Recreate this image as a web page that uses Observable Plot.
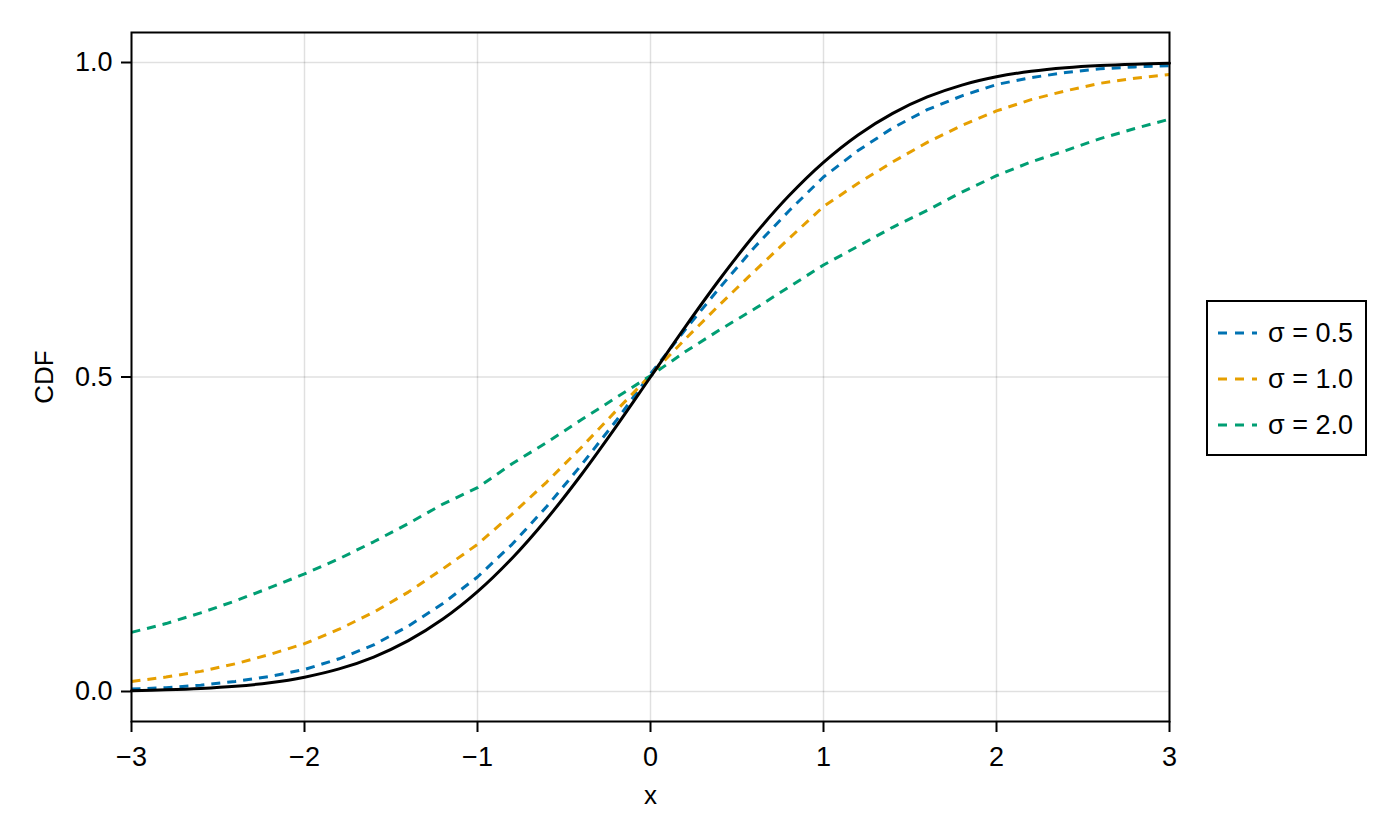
<!DOCTYPE html>
<html>
<head>
<meta charset="utf-8">
<script src="https://cdn.jsdelivr.net/npm/d3@7"></script>
<script src="https://cdn.jsdelivr.net/npm/@observablehq/plot@0.6"></script>
<style>
  html, body { margin: 0; padding: 0; background: #fff; }
  #wrap { position: relative; width: 1400px; height: 840px; font-family: "Liberation Sans", Arial, sans-serif; }
  #legend { position: absolute; left: 1206px; top: 300px; width: 157px; height: 152px; border: 2px solid #000; background: #fff; }
  .row { position: absolute; left: 0; height: 30px; display: flex; align-items: center; font-size: 27px; color: #000; white-space: nowrap; }
  .row svg { margin-left: 10px; margin-right: 11px; }
</style>
</head>
<body>
<div id="wrap"><div id="legend"></div></div>
<script>
// x grid of sampled points
const xs = [-3.0,-2.8,-2.6,-2.4,-2.2,-2.0,-1.8,-1.6,-1.4,-1.2,-1.0,-0.8,-0.6,-0.4,-0.2,0.0,
            0.2,0.4,0.6,0.8,1.0,1.2,1.4,1.6,1.8,2.0,2.2,2.4,2.6,2.8,3.0];
// reference CDF (black solid)
const cdfRef = [0.0013,0.0026,0.0047,0.0082,0.0139,0.0228,0.0359,0.0548,0.0808,0.1151,0.1587,0.2119,0.2743,0.3446,0.4207,0.5000,
                0.5793,0.6554,0.7257,0.7881,0.8413,0.8849,0.9192,0.9452,0.9641,0.9772,0.9861,0.9918,0.9953,0.9974,0.9987];
// sigma = 0.5 (blue dashed)
const sigma05 = [0.004,0.006,0.010,0.016,0.024,0.035,0.052,0.074,0.104,0.140,0.182,0.234,0.294,0.360,0.430,0.505,
                 0.575,0.642,0.706,0.764,0.818,0.860,0.896,0.925,0.947,0.965,0.976,0.984,0.990,0.993,0.995];
// sigma = 1.0 (orange dashed)
const sigma10 = [0.016,0.023,0.032,0.044,0.059,0.076,0.099,0.126,0.158,0.195,0.234,0.282,0.333,0.388,0.446,0.503,
                 0.560,0.615,0.668,0.720,0.771,0.808,0.842,0.873,0.900,0.923,0.941,0.955,0.967,0.975,0.981];
// sigma = 2.0 (green dashed)
const sigma20 = [0.094,0.108,0.125,0.144,0.165,0.187,0.211,0.238,0.267,0.298,0.324,0.362,0.396,0.432,0.467,0.502,
                 0.540,0.575,0.608,0.643,0.678,0.708,0.738,0.765,0.794,0.820,0.842,0.860,0.879,0.895,0.910];
const seriesNames = ["σ = 0.5", "σ = 1.0", "σ = 2.0"];
const seriesColors = ["#0072B2", "#E69F00", "#009E73"];
const xTicks = [-3,-2,-1,0,1,2,3];
const yTicks = [0, 0.5, 1.0];

const seriesValues = [sigma05, sigma10, sigma20];
const dashed = [];
seriesValues.forEach((vals, i) => vals.forEach((v, j) => dashed.push({x: xs[j], y: v, s: seriesNames[i]})));
const ref = xs.map((x, j) => ({x, y: cdfRef[j]}));

const fmtX = d3.format("d");
const fmtY = d3.format(".1f");

const chart = Plot.plot({
  width: 1400,
  height: 840,
  marginLeft: 131,
  marginRight: 231,
  marginTop: 32,
  marginBottom: 119,
  style: {fontFamily: "Liberation Sans, Arial, sans-serif", fontSize: "27px", color: "#000", background: "#fff"},
  x: {domain: [-3, 3]},
  y: {domain: [-0.0477, 1.0477]},
  color: {domain: seriesNames, range: seriesColors},
  marks: [
    Plot.gridX(xTicks, {stroke: "#000", strokeOpacity: 0.12, strokeWidth: 1.5}),
    Plot.gridY(yTicks, {stroke: "#000", strokeOpacity: 0.12, strokeWidth: 1.5}),
    Plot.line(dashed, {x: "x", y: "y", z: "s", stroke: "s", strokeWidth: 3, strokeDasharray: "9,7", strokeLinecap: "butt"}),
    Plot.line(ref, {x: "x", y: "y", stroke: "#000", strokeWidth: 3, curve: "catmull-rom"}),
    Plot.frame({stroke: "#000", strokeWidth: 2}),
    Plot.axisX(xTicks, {tickFormat: fmtX, tickSize: 11, tickPadding: 14, strokeWidth: 2, fontSize: 27,
      label: null}),
    Plot.axisY(yTicks, {tickFormat: fmtY, tickSize: 10, tickPadding: 9, strokeWidth: 2, fontSize: 27,
      label: null}),
    Plot.axisX({anchor: "bottom", ticks: [], label: "x", labelAnchor: "center", labelArrow: "none", labelOffset: 82, fontSize: 26}),
    Plot.axisY({anchor: "left", ticks: [], label: "CDF", labelAnchor: "center", labelArrow: "none", labelOffset: 97, fontSize: 26})
  ]
});
document.getElementById("wrap").prepend(chart);

const legend = document.getElementById("legend");
seriesNames.forEach((name, i) => {
  const row = document.createElement("div");
  row.className = "row";
  row.style.top = (16 + i * 46) + "px";
  row.innerHTML = `<svg width="39" height="6"><line x1="0" y1="3" x2="39" y2="3" stroke="${seriesColors[i]}" stroke-width="3" stroke-dasharray="9,8"/></svg><span>${name}</span>`;
  legend.appendChild(row);
});
</script>
</body>
</html>
